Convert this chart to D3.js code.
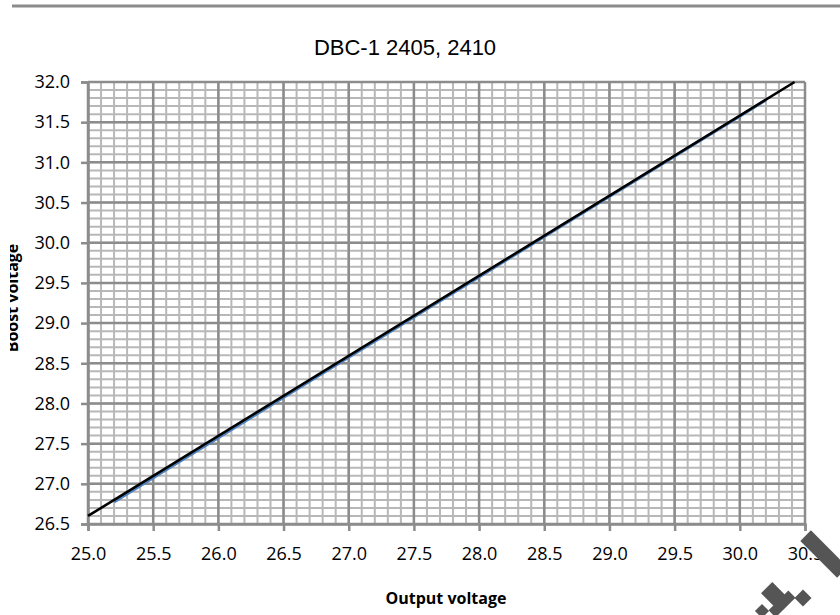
<!doctype html>
<html>
<head>
<style>
body { margin:0; background:#fff; }
svg { display:block; }
.tick text { font-family:"Open Sans", sans-serif; font-size:18px; fill:#000; }
</style>
<script src="https://d3js.org/d3.v7.min.js"></script>
</head>
<body>
<script>

// chart data
var title = 'DBC-1 2405, 2410';
var xLabel = 'Output voltage';
var yLabel = 'Boost voltage';
var xTicks = [25.0, 25.5, 26.0, 26.5, 27.0, 27.5, 28.0, 28.5, 29.0, 29.5, 30.0, 30.5];
var yTicks = [26.5, 27.0, 27.5, 28.0, 28.5, 29.0, 29.5, 30.0, 30.5, 31.0, 31.5, 32.0];

// measured (blue) and reference (black) lines
var measOut   = [25.2, 25.6, 26.0, 26.4, 26.8, 27.2, 27.6, 28.0, 28.4, 28.8, 29.2, 29.6, 30.0, 30.2];
var measBoost = [26.775, 27.175, 27.575, 27.975, 28.375, 28.775, 29.175, 29.575, 29.975, 30.375, 30.775, 31.175, 31.575, 31.775];
var refOut    = [25.0, 30.42];
var refBoost  = [26.6, 32.0];

var width = 840, height = 615;
var svg = d3.select('body').append('svg')
    .attr('width', width)
    .attr('height', height);

var x = d3.scaleLinear().domain([25, 30.5]).range([88, 805]);
var y = d3.scaleLinear().domain([26.5, 32]).range([524, 82]);

// top rule
svg.append('line')
   .attr('x1', 12).attr('x2', width)
   .attr('y1', 6).attr('y2', 6)
   .attr('stroke', '#8c8c8c').attr('stroke-width', 3);

// minor grid (0.1)
var minorX = d3.range(251, 305).map(function (d) { return d / 10; });
var minorY = d3.range(266, 320).map(function (d) { return d / 10; });

var grid = svg.append('g');
grid.selectAll('.mx').data(minorX).enter().append('line')
    .attr('x1', function (d) { return x(d); }).attr('x2', function (d) { return x(d); })
    .attr('y1', y(32)).attr('y2', y(26.5))
    .attr('stroke', '#b8b8b8').attr('stroke-width', 2);
grid.selectAll('.my').data(minorY).enter().append('line')
    .attr('y1', function (d) { return y(d); }).attr('y2', function (d) { return y(d); })
    .attr('x1', x(25)).attr('x2', x(30.5))
    .attr('stroke', '#b8b8b8').attr('stroke-width', 2);

// major grid (0.5)
grid.selectAll('.Mx').data(xTicks).enter().append('line')
    .attr('x1', function (d) { return x(d); }).attr('x2', function (d) { return x(d); })
    .attr('y1', y(32)).attr('y2', y(26.5))
    .attr('stroke', '#8c8c8c').attr('stroke-width', 2.5);
grid.selectAll('.My').data(yTicks).enter().append('line')
    .attr('y1', function (d) { return y(d); }).attr('y2', function (d) { return y(d); })
    .attr('x1', x(25)).attr('x2', x(30.5))
    .attr('stroke', '#8c8c8c').attr('stroke-width', 2.5);

// axes
var xAxis = svg.append('g')
    .attr('transform', 'translate(0,' + y(26.5) + ')')
    .call(d3.axisBottom(x).tickValues(xTicks).tickFormat(d3.format('.1f')).tickSize(7).tickPadding(16));
var yAxis = svg.append('g')
    .attr('transform', 'translate(' + x(25) + ',0)')
    .call(d3.axisLeft(y).tickValues(yTicks).tickFormat(d3.format('.1f')).tickSize(7).tickPadding(11));
[xAxis, yAxis].forEach(function (a) {
  a.select('.domain').attr('stroke', '#8c8c8c').attr('stroke-width', 2.5);
  a.selectAll('.tick line').attr('stroke', '#8c8c8c').attr('stroke-width', 2.5);
});

// lines
var line = d3.line()
    .x(function (d) { return x(d[0]); })
    .y(function (d) { return y(d[1]); });

svg.append('path')
   .datum(d3.zip(measOut, measBoost))
   .attr('d', line)
   .attr('fill', 'none')
   .attr('stroke', '#4f81bd')
   .attr('stroke-width', 3);

svg.append('path')
   .datum(d3.zip(refOut, refBoost))
   .attr('d', line)
   .attr('fill', 'none')
   .attr('stroke', '#000')
   .attr('stroke-width', 2.6);

// titles
svg.append('text')
   .attr('x', 405).attr('y', 55)
   .attr('text-anchor', 'middle')
   .style('font-family', 'Liberation Sans, Arial, sans-serif')
   .style('font-size', '22px')
   .text(title);

svg.append('text')
   .attr('x', 446).attr('y', 604)
   .attr('text-anchor', 'middle')
   .style('font-family', '"Open Sans", sans-serif')
   .style('font-weight', 'bold')
   .style('font-size', '16px')
   .text(xLabel);

// y label is cut at the left edge like the original
svg.append('clipPath').attr('id', 'ylab-clip')
   .append('rect').attr('x', 10).attr('y', 0).attr('width', 60).attr('height', height);

svg.append('g')
   .attr('clip-path', 'url(#ylab-clip)')
   .append('text')
   .attr('transform', 'translate(18,' + 298 + ') rotate(-90)')
   .attr('text-anchor', 'middle')
   .style('font-family', '"Open Sans", sans-serif')
   .style('font-weight', 'bold')
   .style('font-size', '16px')
   .text(yLabel);

// watermark marks in the bottom-right corner
var marks = [
  [824, 554, 15, 52, 45],
  [803, 598, 12, 12, 45],
  [773, 594, 16, 18, 45],
  [782, 604, 28, 10, 45],
  [762, 611, 10, 10, 45]
];
svg.selectAll('.wm').data(marks).enter().append('rect')
   .attr('x', function (d) { return -d[2] / 2; })
   .attr('y', function (d) { return -d[3] / 2; })
   .attr('width', function (d) { return d[2]; })
   .attr('height', function (d) { return d[3]; })
   .attr('transform', function (d) { return 'translate(' + d[0] + ',' + d[1] + ') rotate(' + (-d[4]) + ')'; })
   .attr('fill', '#555');

</script>
</body>
</html>
